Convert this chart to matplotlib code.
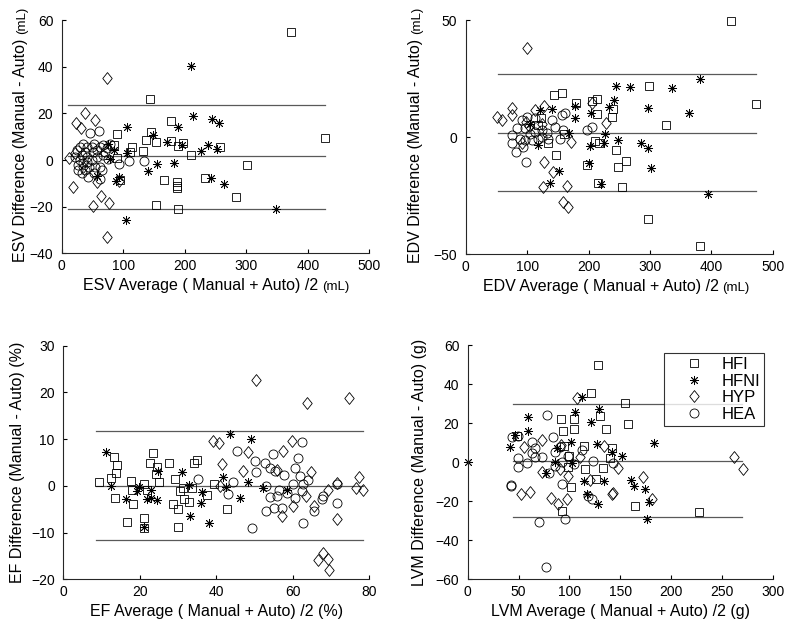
import matplotlib.pyplot as plt
from matplotlib.path import Path

plt.rcParams['font.family'] = 'Liberation Sans'

groups = ['HFI', 'HFNI', 'HYP', 'HEA']

# ESV (mL): (average, difference)
esv_hfi = [(372.7, 54.7), (143.6, 26.3), (428, 9.6), (177, 16.7), (89.4, 11.1), (146, 12), (137, 8.6),
           (152.7, 7.7), (177.7, 8.3), (196.6, 7.4), (188.5, 6.1), (113.8, 5.7), (256.8, 5.6), (209.6, 2.0),
           (300.6, -2), (232.4, -7.6), (165.8, -8.6), (186.9, -9.4), (186.9, -11.1), (186.9, -12.1),
           (282.8, -15.9), (153.3, -19.3), (188.5, -21), (85, 6.3), (111, 3.6), (131.6, 4), (94.8, -8.6), (90, 1)]
esv_hfni = [(210, 40.4), (213, 19), (244, 17.6), (256, 16), (105.6, 14.4), (189.6, 14.3), (149, 10.9),
            (170.6, 7.9), (195.6, 6.3), (238, 6.3), (227, 4), (252, 4.9), (74.8, 7.1), (85, 4.3), (105.6, 2.9),
            (155.5, -1.7), (182, -1.3), (141, -4.6), (243, -7.7), (264, -10.3), (92.6, -7.1), (88.8, -9),
            (348, -21.1), (104, -25.7), (56.9, -6.9), (78.5, 0.6)]
esv_hyp = [(73, 35.4), (38, 20), (23.3, 16.1), (30.9, 13.6), (54.2, 17), (12, 1.1), (19, -11.4), (51.5, -19.6),
           (63.4, -15.3), (77.5, -18.4), (73, -32.9), (92.6, -9.1), (56.9, -9.3), (22, 3), (35, -3)]
esv_hea = [(46, 11.7), (60.7, 12.6), (29.8, 5.7), (26, -4.3), (32.5, -5.7), (41.7, 1.4), (51.5, 3.6),
           (62.3, 5.7), (67.7, 6.4), (73, 5), (43.3, -7.1), (62.3, -7.9), (65, -4.3), (35.2, -1.4), (21.7, 1.4),
           (24.4, 4.3), (38, 3.6), (48.8, 0), (56.9, 1.4), (62.3, -2.9), (29.8, 0), (54.2, -2.9), (40.6, 5.7),
           (48.8, 5.7), (56.9, 4.3), (67.7, 2.1), (75.8, 0.7), (32.5, 2.1), (45, -2.9), (52.5, -5.7), (38, -4.3),
           (27, -2), (35.2, 7.1), (53, 7.1), (70.4, 3.6), (78.5, 7.1), (40.6, -0.7), (110, -0.3), (133.8, -0.3),
           (93.7, -1.7)]

# EDV (mL)
edv_hfi = [(431.6, 49.6), (472.3, 14.1), (381.7, -46.4), (296.4, -34.9), (298.6, 21.9), (325.7, 5),
           (144.4, 18.1), (157.5, 18.7), (179.2, 14.4), (213.4, 16.4), (205.2, 15.4), (214.5, 9.8), (238.9, 8.4),
           (240.5, 12), (147, -7.7), (245.4, -5.6), (260.6, -10.1), (247.6, -12.7), (197.6, -12.1), (215, -19.8),
           (254.6, -21.5), (159.6, 1.3), (210.6, -1.6), (217.7, -2.4), (133.5, -2.4), (122, 8.1), (118.4, 5.1)]
edv_hfni = [(381.7, 24.9), (244.8, 21.9), (267.6, 21.5), (335.5, 20.8), (242.1, 15.8), (297.5, 12.3),
            (363.7, 10.3), (232.9, 12.7), (178, 13.2), (141, 12.1), (178, 8.3), (204, 10.1), (168.8, 1.9),
            (227, 1.3), (248.6, -1.3), (202.5, -3.8), (225.3, -2.7), (285.6, -2.7), (296.4, -4.6), (201.4, -11),
            (301.8, -13), (152.6, -14.5), (137.4, -19.5), (221, -19.9), (395.2, -24.4), (121.6, 11.5),
            (104.8, 5.8), (118, -3.5)]
edv_hyp = [(100.4, 37.9), (50.5, 8.4), (59.7, 7.3), (74.9, 12.3), (74.9, 9.4), (127.6, 13.5), (113, 11.5),
           (205.2, 14.5), (228.5, 6.1), (128.1, -10.8), (142.8, -15.1), (125.4, -21.5), (165, -20.7), (158, -27.6),
           (166, -29.8), (171, -1.9), (91.2, -2.7), (97.7, 6.6), (103, 4.7), (123.8, 5.8)]
edv_hea = [(76, 0.9), (75, -2.4), (81.4, -6.3), (98.3, -10.5), (91.2, 7.3), (96.6, 4.1), (104.8, 1.3),
           (113, 2.3), (123.8, 0.1), (132.5, 1.6), (140, 7.3), (156.4, 9.4), (161.8, 10.1), (197, 3), (205.2, 4.4),
           (159, 3), (93.9, -4.1), (83, 3.7), (107.5, -1.3), (118.4, -0.6), (134.6, -0.6), (153.6, -0.6),
           (88.5, -0.6), (99.3, 8.7), (113, 8), (145.5, 4.4), (123.8, 3), (96.6, -1.3)]

# EF (%)
ef_hfi = [(9.3, 0.8), (13.2, 6.2), (14.1, 4.5), (13.9, 2.7), (12.6, 1.6), (13.6, -2.7), (17.7, 1), (18, -0.9),
          (18.3, -3.9), (16.6, -7.7), (21.2, -6.8), (21.2, -9.1), (21.2, 0.3), (21.8, -0.9), (23.5, 7.1),
          (22.7, 5), (24.4, 4), (24.2, 2.5), (25, 0.9), (27.7, 5), (29.2, 1.5), (28.7, -3.9), (30.1, -5),
          (29.9, -8.9), (31.2, -0.5), (30.5, -1.2), (31.5, -2.9), (32.9, -3.5), (34.2, 5), (34.9, 5.5),
          (33.6, -0.4), (37.5, -2), (39.5, 0.4), (42.7, -5)]
ef_hfni = [(11.1, 7.2), (12.4, -0.1), (16.4, -2.9), (19.2, -1), (19.8, -0.3), (21.8, -2.9), (22.9, -2.5),
           (22.9, -0.9), (24.6, -3), (24.7, 3.2), (31, 3), (32.9, 0.2), (33.1, -6.4), (36.2, -1.4), (36, -3.7),
           (38, -7.9), (41.7, 1.8), (43.6, 11), (42.5, -0.2), (46.2, -2.5), (48.4, 0.9), (49.2, 10), (52.3, -0.5),
           (58.4, -0.8), (21.2, -8.8)]
ef_hyp = [(50.5, 22.6), (74.8, 18.9), (63.6, 17.7), (39.2, 9.7), (40.7, 9.1), (59.8, 9.7), (48.2, 7.3),
          (57.5, 7.5), (41.5, 4.7), (46.9, 3.2), (56, 3.5), (64.7, 3), (77.4, 2), (76.5, -0.4), (78.3, -0.8),
          (71.5, 0.7), (69.1, -0.9), (63.4, -2.2), (65.5, -4.4), (60, -4.4), (57.1, -6.4), (71.5, -7),
          (66.7, -15.9), (67.8, -14.4), (69.1, -15.7), (69.5, -18.1), (41, 0)]
ef_hea = [(45.5, 7.5), (50.1, 5.4), (50.4, 2.9), (54.9, 6.8), (52.7, 4.8), (54, 3.8), (55.3, 3.1), (57.7, 2.3),
          (62.4, 9.3), (61.3, 6), (60.7, 3.8), (61.8, 2.2), (64, 1.3), (35.3, 1.5), (44.4, 0.9), (43, -1.8),
          (49.4, -9.1), (53, -5.3), (54, -2.3), (55.8, -2.2), (55.1, -4.8), (57.1, -4.8), (58.6, -1.6),
          (60.1, 0.3), (60.5, -2.5), (62.4, -1), (62.6, -8), (65.6, -5.3), (67.6, -2.9), (68, -2.2),
          (71.5, 0.4), (71.6, -3.6), (53, 0), (62.7, 0.5), (56.3, -0.9)]

# LVM (g)
lvm_hfi = [(127.9, 49.8), (121, 35.6), (154.8, 30.1), (92.1, 22.3), (104.6, 21.9), (129.8, 23.6), (158, 19.5),
           (93.8, 16.1), (104.6, 17), (136.4, 17), (114.1, 8.4), (142.3, 7.4), (140, 1.9), (99, -2.3),
           (115.4, -3.5), (133.1, -3.2), (101.3, -12.9), (126.2, -8.8), (164.6, -22.3), (92.5, -24.8),
           (227.5, -25.7), (48.9, 13.6), (94.4, 8.3), (100, 3)]
lvm_hfni = [(112.1, 33.5), (129.5, 27.2), (105.6, 25.9), (59.7, 23), (121, 20.4), (59.7, 16.1), (46.6, 13.7),
            (41.6, 7.9), (183.6, 10), (101.6, 10.3), (126.9, 9.1), (151.5, 3.2), (142.3, 5.4), (0, -0.1),
            (85.9, 0.3), (114.8, -9.5), (134.4, -9.8), (160.7, -9.1), (163.9, -12), (174.4, -13.7), (117, -16.5),
            (178.7, -20.2), (127.9, -21.4), (176.7, -29.1), (102.3, -0.6), (76.7, -5.7), (88, 7)]
lvm_hyp = [(107.5, 33), (262.3, 2.8), (270.5, -3.5), (73.4, 11.3), (55, 8), (134.4, 8.3), (148.2, -2.8),
           (172.5, -7.4), (181.6, -19), (142.6, -15.6), (141.6, -16.5), (52.5, -16.5), (61.6, -15.1), (82, -18.2),
           (89.2, -21.6), (97.4, -18.9), (72.8, -4.9), (99, -7), (91.5, 8.6), (110.5, 2.5), (90.5, -3.5), (120, -9)]
lvm_hea = [(77.7, 24.2), (70.2, -30.5), (95.7, -29.3), (76.7, -53.5), (42.3, -12), (43, -11.5), (43.9, 12.7),
           (49.8, 13.5), (84.3, 12.7), (63, 10.5), (123.6, 0.8), (122, -19), (118, -17.3), (93.1, -11.4),
           (80, -5.7), (49.8, 2), (49.8, -2.3), (58, -0.6), (63, 4.5), (66.2, 2.8), (72.8, 2.8), (85.9, 5.4),
           (90.8, 7.9), (99, 3.2), (85.9, -1.8), (92.5, 0), (112, 6), (105, -1), (143.3, -0.6), (66, 7.5)]

# bias, upper and lower limits of agreement, and x extent of those lines
esv_limits = [1.7, 23.6, -21.0]
edv_limits = [1.6, 26.9, -23.2]
ef_limits = [0.0, 11.7, -11.6]
lvm_limits = [0.6, 29.6, -28.1]
esv_span = [10.8, 428]
edv_span = [52, 473]
ef_span = [8.7, 78.4]
lvm_span = [45, 270]

esv_yticks = [-40, -20, 0, 20, 40, 60]
edv_yticks = [-50, 0, 50]
ef_yticks = [-20, -10, 0, 10, 20, 30]
lvm_yticks = [-60, -40, -20, 0, 20, 40, 60]

diamond = Path([(0, 1), (0.8, 0), (0, -1), (-0.8, 0), (0, 1)], closed=True)
styles = [('s', 5.3), ((8, 2, 0), 6.5), (diamond, 8.5), ('o', 6.5)]

panels = [
    dict(pos=[0.078, 0.597, 0.3895, 0.371], data=[esv_hfi, esv_hfni, esv_hyp, esv_hea],
         limits=esv_limits, span=esv_span, xlim=(0, 500), ylim=(-40, 60), yticks=esv_yticks,
         xlabel='ESV Average ( Manual + Auto) /2', ylabel='ESV Difference (Manual - Auto)', unit='(mL)',
         xl=(0.451, -0.105), yl=(-0.11, 0.443)),
    dict(pos=[0.5895, 0.596, 0.3886, 0.372], data=[edv_hfi, edv_hfni, edv_hyp, edv_hea],
         limits=edv_limits, span=edv_span, xlim=(0, 500), ylim=(-50, 50), yticks=edv_yticks,
         xlabel='EDV Average ( Manual + Auto) /2', ylabel='EDV Difference (Manual - Auto)', unit='(mL)',
         xl=(0.439, -0.105), yl=(-0.139, 0.442)),
    dict(pos=[0.080, 0.079, 0.3875, 0.3714], data=[ef_hfi, ef_hfni, ef_hyp, ef_hea],
         limits=ef_limits, span=ef_span, xlim=(0, 80), ylim=(-20, 30), yticks=ef_yticks,
         xlabel='EF Average ( Manual + Auto) /2 (%)', ylabel='EF Difference (Manual - Auto) (%)', unit=None,
         xl=(0.5, -0.104), yl=(-0.125, 0.5)),
    dict(pos=[0.592, 0.079, 0.386, 0.3725], data=[lvm_hfi, lvm_hfni, lvm_hyp, lvm_hea],
         limits=lvm_limits, span=lvm_span, xlim=(0, 300), ylim=(-60, 60), yticks=lvm_yticks,
         xlabel='LVM Average ( Manual + Auto) /2 (g)', ylabel='LVM Difference (Manual - Auto) (g)', unit=None,
         xl=(0.5, -0.104), yl=(-0.133, 0.5)),
]

fig = plt.figure(figsize=(7.9, 6.29), dpi=100)

for i, p in enumerate(panels):
    ax = fig.add_axes(p['pos'])
    for lim in p['limits']:
        ax.plot(p['span'], [lim, lim], color='0.35', lw=0.9, zorder=1)
    for pts, name, (mk, ms) in zip(p['data'], groups, styles):
        x, y = zip(*pts)
        ax.plot(x, y, linestyle='none', marker=mk, markersize=ms, markerfacecolor='none',
                markeredgecolor='black', markeredgewidth=0.6, label=name, zorder=2, clip_on=False)
    ax.set_xlim(p['xlim'])
    ax.set_ylim(p['ylim'])
    ax.set_yticks(p['yticks'])
    ax.spines['top'].set_visible(False)
    ax.spines['right'].set_visible(False)
    for s in ['left', 'bottom']:
        ax.spines[s].set_linewidth(0.8)
        ax.spines[s].set_color('0.15')
    ax.tick_params(direction='in', length=3, width=0.8, labelsize=10, pad=4)
    ax.tick_params(axis='y', pad=6)
    ax.set_xlabel(p['xlabel'], fontsize=11.5)
    ax.set_ylabel(p['ylabel'], fontsize=11.5)
    ax.xaxis.set_label_coords(*p['xl'])
    ax.yaxis.set_label_coords(*p['yl'])
    if p['unit']:
        ax.annotate(p['unit'], xy=(1, 0), xycoords=ax.xaxis.label, xytext=(3, 0),
                    textcoords='offset points', ha='left', va='bottom', fontsize=9.5)
        ax.annotate(p['unit'], xy=(1, 1), xycoords=ax.yaxis.label, xytext=(0, 3),
                    textcoords='offset points', ha='right', va='bottom', rotation=90, fontsize=9.5)
    if i == 3:
        leg = ax.legend(loc='upper right', bbox_to_anchor=(0.9725, 0.967), fontsize=12, frameon=True,
                        fancybox=False, handlelength=3.1, handletextpad=0.1, labelspacing=0.1,
                        borderpad=0.25, borderaxespad=0)
        leg.get_frame().set_edgecolor('black')
        leg.get_frame().set_linewidth(0.8)

fig.savefig('out.png', dpi=100)
